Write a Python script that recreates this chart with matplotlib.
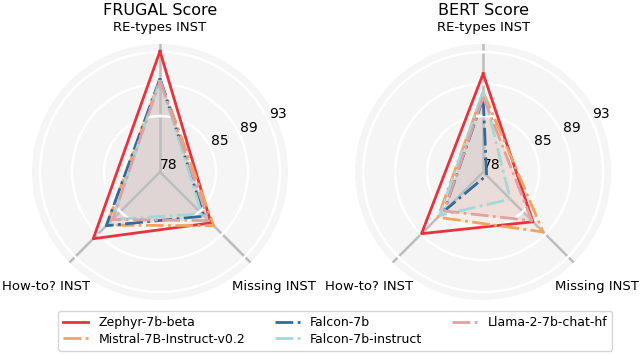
import numpy as np
import matplotlib
matplotlib.use("Agg")
import matplotlib.pyplot as plt
from matplotlib.transforms import ScaledTranslation

categories = ["RE-types INST", "Missing INST", "How-to? INST"]
models = ["Zephyr-7b-beta", "Mistral-7B-Instruct-v0.2", "Falcon-7b",
          "Falcon-7b-instruct", "Llama-2-7b-chat-hf"]

# scores per model, in the order of categories
frugal_scores = {
    "Zephyr-7b-beta": [93.1, 87.0, 89.8],
    "Mistral-7B-Instruct-v0.2": [89.6, 87.5, 87.4],
    "Falcon-7b": [89.7, 85.8, 87.5],
    "Falcon-7b-instruct": [89.5, 85.4, 86.4],
    "Llama-2-7b-chat-hf": [89.4, 86.6, 86.4],
}
bert_scores = {
    "Zephyr-7b-beta": [90.3, 86.8, 88.9],
    "Mistral-7B-Instruct-v0.2": [88.0, 88.6, 86.0],
    "Falcon-7b": [87.2, 78.6, 84.9],
    "Falcon-7b-instruct": [88.1, 82.8, 85.7],
    "Llama-2-7b-chat-hf": [87.4, 86.6, 84.9],
}
r_ticks = [78, 85, 89, 93]

colors = {
    "Zephyr-7b-beta": "#e8333c",
    "Mistral-7B-Instruct-v0.2": "#f4a25c",
    "Falcon-7b": "#2f6c9c",
    "Falcon-7b-instruct": "#a3d8d8",
    "Llama-2-7b-chat-hf": "#dfa2a2",
}
styles = {
    "Zephyr-7b-beta": "-",
    "Mistral-7B-Instruct-v0.2": "-.",
    "Falcon-7b": "-.",
    "Falcon-7b-instruct": "-.",
    "Llama-2-7b-chat-hf": "-.",
}
fill_alpha = {
    "Zephyr-7b-beta": 0.0,
    "Mistral-7B-Instruct-v0.2": 0.08,
    "Falcon-7b": 0.08,
    "Falcon-7b-instruct": 0.08,
    "Llama-2-7b-chat-hf": 0.2,
}

angles = np.deg2rad([0, 135, 225])


def draw_radar(fig, ax, scores, title):
    ax.set_theta_offset(np.pi / 2)
    ax.set_theta_direction(-1)
    ax.set_facecolor("#f5f5f5")
    ax.spines["polar"].set_visible(False)
    closed = np.append(angles, angles[0])
    for m in models:
        vals = scores[m] + scores[m][:1]
        ax.plot(closed, vals, styles[m], color=colors[m], lw=2, label=m, zorder=3)
        if fill_alpha[m] > 0:
            ax.fill(closed, vals, color=colors[m], alpha=fill_alpha[m], zorder=1)
    ax.set_ylim(78, 94)
    ax.set_yticks(r_ticks)
    ax.set_yticklabels([str(t) for t in r_ticks], fontsize=10)
    ax.set_rlabel_position(65)
    ax.set_xticks(angles)
    ax.set_xticklabels(categories, fontsize=9.5)
    ax.tick_params(axis="x", pad=1.5)
    # extra transform on the lower labels keeps them clear of the spokes
    labs = ax.get_xticklabels()
    for lab in labs[1:]:
        lab.set_transform(lab.get_transform() + ScaledTranslation(0, 0, fig.dpi_scale_trans))
    ax.set_axisbelow(False)
    ax.xaxis.grid(True, color="#bdbdbd", lw=1.8)
    ax.yaxis.grid(True, color="white", lw=1.8)
    ax.set_title(title, fontsize=11.5, y=1.115, pad=0)


fig = plt.figure(figsize=(6.4, 3.55), dpi=100)
ax1 = fig.add_axes([0.05, 0.155, 0.4, 0.721], projection="polar")
ax2 = fig.add_axes([0.555, 0.155, 0.4, 0.721], projection="polar")
draw_radar(fig, ax1, frugal_scores, "FRUGAL Score")
draw_radar(fig, ax2, bert_scores, "BERT Score")

handles, labels = ax1.get_legend_handles_labels()
fig.legend(handles, labels, loc="center", bbox_to_anchor=(0.524, 0.068), ncol=3,
           fontsize=9, frameon=True, handlelength=2, columnspacing=2.4,
           labelspacing=0.3, borderpad=0.4)

fig.savefig("out.png", dpi=100)
